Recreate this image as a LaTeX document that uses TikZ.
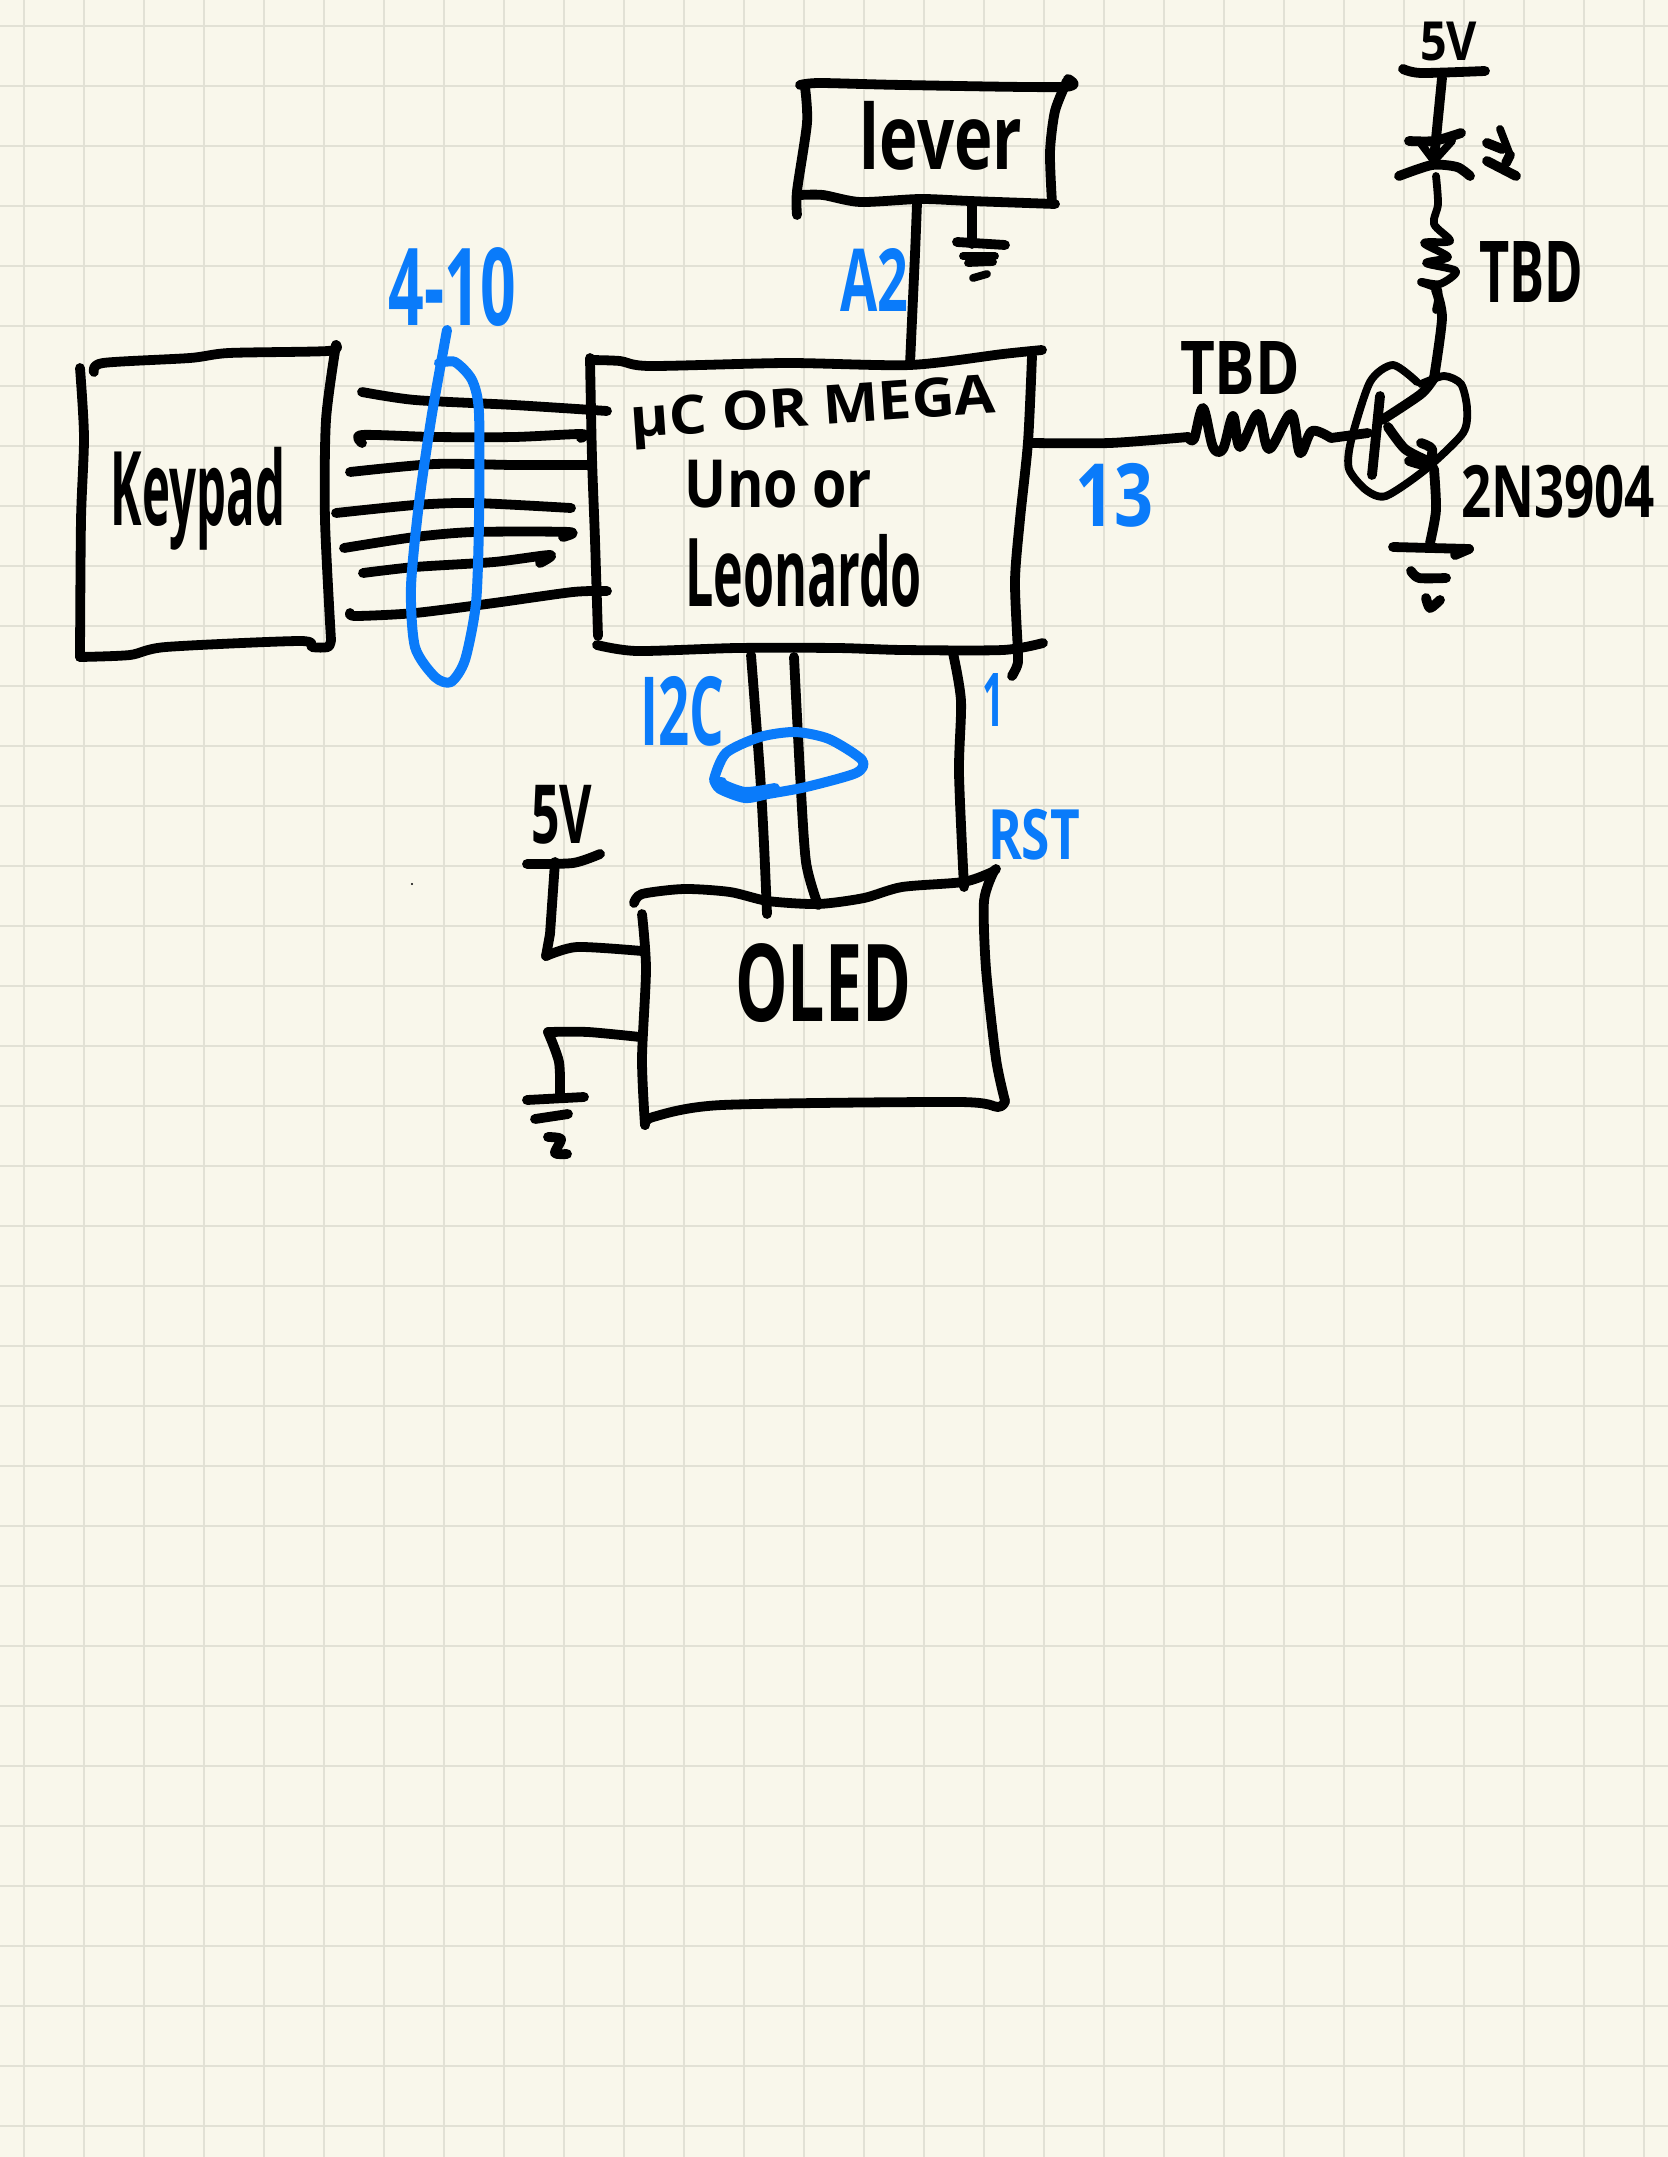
\documentclass[tikz,border=0pt]{standalone}
\usepackage{graphicx}
\usepackage{fontspec}
\setmainfont{Open Sans}
\definecolor{paper}{HTML}{F9F7EB}
\definecolor{gridc}{HTML}{E2E1D5}
\definecolor{bluepen}{HTML}{0A7BFA}
\tikzset{
  ink/.style={draw=black,line width=4.9pt,line cap=round,line join=round},
  thin ink/.style={draw=black,line width=3.9pt,line cap=round,line join=round},
  bink/.style={draw=bluepen,line width=5pt,line cap=round,line join=round},
  hand/.style={inner sep=0pt,outer sep=0pt,text=black,font=\bfseries},
  bhand/.style={inner sep=0pt,outer sep=0pt,text=bluepen,font=\bfseries},
}
\newcommand{\hw}[7][hand]{%
  \pgfmathsetmacro\hwX{(#3+#5)/2}\pgfmathsetmacro\hwY{(#4+#6)/2}%
  \pgfmathsetmacro\hwW{(#5-#3)*0.5}\pgfmathsetmacro\hwH{(#6-#4)*0.5}%
  \node[#1] (#2) at (\hwX,\hwY) {\resizebox*{\hwW pt}{\hwH pt}{#7}};}
\newcommand{\stroke}[2][ink]{\draw[#1,smooth,tension=0.45] plot coordinates {#2};}
\begin{document}
\begin{tikzpicture}[x=0.5pt,y=-0.5pt]
\useasboundingbox (0,0) rectangle (1668,2157);
\fill[paper] (0,0) rectangle (1668,2157);
\foreach \x in {24,84,...,1644} \draw[gridc,line width=1.1pt] (\x,0) -- (\x,2157);
\foreach \y in {26,86,...,2126} \draw[gridc,line width=1.1pt] (0,\y) -- (1668,\y);

% named wire ends on the boxes
\coordinate (kA) at (362,392); \coordinate (uA) at (607,411);
\coordinate (kB) at (362,435); \coordinate (uB) at (581,434);
\coordinate (kC) at (350,472); \coordinate (uC) at (589,465);
\coordinate (kD) at (336,513); \coordinate (uD) at (571,508);
\coordinate (kE) at (344,548); \coordinate (uE) at (569,532);
\coordinate (kF) at (363,573); \coordinate (uF) at (550,555);
\coordinate (kG) at (350,613); \coordinate (uG) at (607,591);
\coordinate (levA) at (917,203); \coordinate (uTop) at (910,364);
\coordinate (levG) at (972,205); \coordinate (gndA) at (972,244);
\coordinate (uRight) at (1030,443); \coordinate (resA) at (1188,437);
\coordinate (resB) at (1331,438); \coordinate (baseIn) at (1368,433);
\coordinate (uS1) at (751,655); \coordinate (oS1) at (767,914);
\coordinate (uS2) at (794,657); \coordinate (oS2) at (818,905);
\coordinate (uS3) at (953,653); \coordinate (oS3) at (964,887);
\coordinate (vL) at (555,862); \coordinate (oV) at (642,951);
\coordinate (oG) at (640,1037); \coordinate (gL) at (560,1096);

% keypad box
\stroke{(80,368) (84,437) (81,520) (80,657)}
\stroke{(80,657) (130,655) (166,647) (300,641) (312,647) (328,647) (331,640)}
\stroke{(331,640) (325,520) (326,420) (336,345)}
\stroke{(94,372) (103,363) (190,358) (229,353) (328,351) (336,345)}
\hw{keypad}{111}{447}{285}{550}{Keypad}

% bundle
\stroke{(kA) (415,400) (514,405) (uA)}
\stroke{(362,443) (kB) (435,437) (514,437) (uB) (581,438)}
\stroke{(kC) (435,464) (514,465) (uC)}
\stroke{(kD) (415,505) (474,503) (uD)}
\stroke{(kE) (415,537) (474,532) (uE) (563,537)}
\stroke{(kF) (415,567) (494,562) (uF) (540,563)}
\stroke{(kG) (356,616) (415,613) (494,603) (573,592) (uG)}

% blue loop and label
\stroke[bink]{(447,330) (441,363)}
\stroke[bink]{(439,363) (455,362) (472,380) (479,413) (479,520) (476,603) (465,660) (451,682) (435,677) (415,647) (411,587) (419,503) (431,420) (441,363)}
\hw[bhand]{pinsK}{389}{248}{516}{327}{4-10}

% microcontroller box
\stroke{(590,358) (592,458) (595,540) (598,636)}
\stroke{(590,360) (620,361) (650,366) (787,363) (910,365) (1003,354) (1042,350)}
\stroke{(1032,356) (1028,442) (1020,519) (1015,581) (1018,654) (1017,666) (1012,676)}
\stroke{(597,645) (637,651) (737,648) (837,648) (903,650) (1003,650) (1043,643)}
\hw[hand,rotate=4]{mcuA}{630}{386}{996}{438}{µC OR MEGA}
\hw{mcuB}{685}{460}{872}{508}{Uno or}
\hw{mcuC}{685}{534}{922}{607}{Leonardo}

% lever
\stroke{(800,85) (820,83) (903,85) (1063,87) (1068,79)}
\stroke{(1067,81) (1055,111) (1050,152) (1052,203)}
\stroke{(805,87) (807,123) (797,191) (797,215)}
\stroke{(800,195) (823,195) (860,202) (920,199) (970,201) (1055,204)}
\hw{lever}{860}{101}{1022}{170}{lever}
\stroke{(levA) (915,254) (uTop)}
\hw[bhand]{pinA}{840}{248}{908}{311}{A2}
\draw[ink] (levG) -- (gndA);
\draw[ink] (957,242) -- (1005,245);
\draw[thin ink] (963,256) -- (995,256);
\draw[thin ink] (968,263) -- (993,262);
\draw[thin ink] (973,278) -- (987,274);

% base wire and resistor
\stroke{(uRight) (1110,443) (resA)}
\draw[ink,smooth,tension=0.55] plot coordinates {(resA) (1194,439) (1203,408) (1213,447) (1223,449) (1233,416) (1240,447) (1258,414) (1269,449) (1291,414) (1300,453) (1312,431) (resB)};
\draw[ink] (resB) -- (baseIn);
\hw{tbdA}{1180}{341}{1300}{394}{TBD}
\hw[bhand]{pinT}{1075}{463}{1153}{527}{13}

% transistor
\draw[ink] (1380,396) -- (1372,475);
\stroke{(1382,420) (1421,394) (1434,378)}
\stroke{(1434,378) (1442,318) (1436,290)}
\stroke{(1388,427) (1405,449) (1428,461)}
\stroke{(1421,443) (1432,449) (1428,465) (1409,461)}
\stroke{(1434,469) (1436,510) (1430,543)}
\stroke[thin ink]{(1417,382) (1393,365) (1370,382) (1351,441) (1349,469) (1366,490) (1386,496) (1426,469) (1463,433) (1467,408) (1461,384) (1444,376) (1421,384)}
\hw{npn}{1461}{465}{1655}{518}{2N3904}
% transistor ground
\draw[ink] (1393,547) -- (1469,549);
\draw[ink] (1455,555) -- (1469,549);
\stroke{(1411,571) (1419,578) (1446,578)}
\stroke{(1426,598) (1430,608) (1440,600)}

% collector resistor
\draw[thin ink,smooth,tension=0.5] plot coordinates {(1436,176) (1438,204) (1434,224) (1450,241) (1424,243) (1448,257) (1426,263) (1456,271) (1440,284) (1421,282) (1438,290) (1436,310)};
\hw{tbdB}{1479}{241}{1583}{302}{TBD}

% supply and LED
\hw{fiveA}{1420}{22}{1477}{61}{5V}
\stroke{(1403,69) (1421,73) (1485,71)}
\draw[ink] (1442,78) -- (1434,159);
\stroke{(1409,141) (1434,141) (1461,133)}
\draw[thin ink] (1419,141) -- (1434,161) -- (1452,141);
\stroke{(1399,176) (1432,165) (1457,167) (1470,176)}
\stroke[thin ink]{(1500,129) (1510,155)}
\draw[ink] (1487,143) -- (1502,149);
\draw[ink] (1487,161) -- (1516,176);
\draw[ink] (1506,163) -- (1510,155);

% links to OLED
\stroke{(uS1) (760,773) (764,844) (oS1)}
\stroke{(uS2) (800,773) (806,862) (oS2)}
\stroke{(uS3) (961,701) (959,773) (oS3)}
\stroke[bink]{(722,782) (714,780) (726,753) (760,737) (795,732) (829,739) (862,760) (856,773) (806,787) (768,794) (745,798) (720,789) (714,780)}
\stroke[bink]{(722,784) (745,792) (775,788)}
\hw[bhand]{pinI}{640}{676}{724}{746}{I2C}
\hw[bhand]{pinO}{982}{673}{1004}{726}{1}
\hw[bhand]{pinR}{988}{809}{1080}{860}{RST}

% OLED
\stroke{(634,903) (642,894) (684,889) (730,892) (768,901) (818,904) (864,898) (902,887) (963,882) (990,873) (996,869)}
\stroke{(994,871) (984,901) (986,969) (996,1059) (1005,1101)}
\stroke{(1005,1101) (998,1107) (959,1102) (722,1105) (653,1117) (645,1125)}
\stroke{(642,914) (646,969) (642,1059) (645,1125)}
\hw{oled}{735}{944}{911}{1023}{OLED}

% OLED supply
\hw{fiveB}{531}{785}{592}{844}{5V}
\stroke{(527,864) (573,863) (600,854)}
\draw[ink] (vL) -- (550,934) -- (546,956);
\stroke{(546,956) (577,947) (oV)}
\stroke{(oG) (588,1032) (548,1032)}
\stroke{(548,1032) (559,1062) (gL)}
\draw[ink] (527,1100) -- (584,1097);
\draw[ink] (535,1119) -- (568,1114);
\stroke{(548,1137) (561,1139) (555,1153) (567,1154)}

% stray dot
\fill[black] (412,884) circle (1.2);
\end{tikzpicture}
\end{document}
